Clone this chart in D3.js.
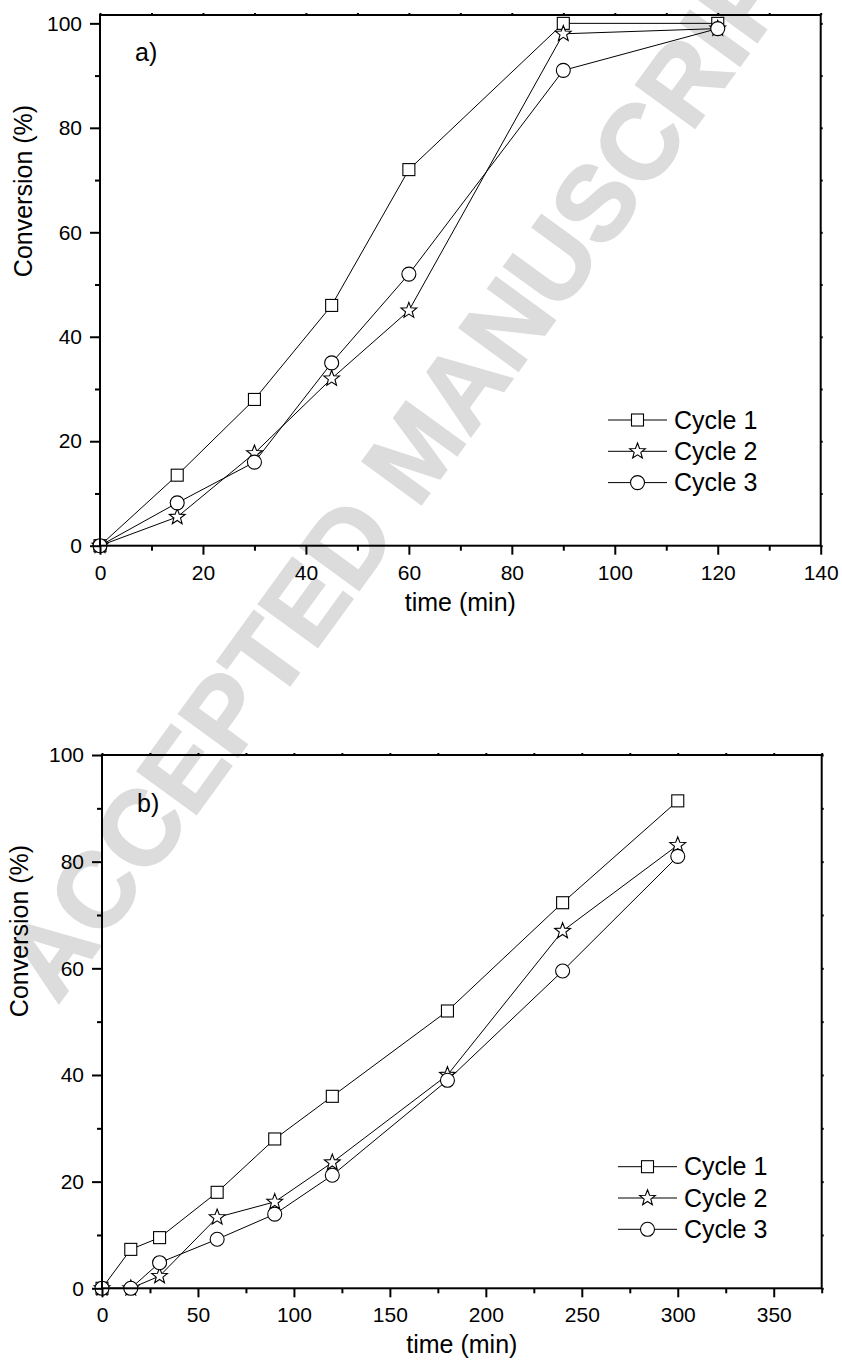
<!DOCTYPE html>
<html>
<head>
<meta charset="utf-8">
<script src="https://d3js.org/d3.v7.min.js"></script>
<style>
  body { margin: 0; background: #fff; }
  svg { display: block; font-family: Arial, "Liberation Sans", sans-serif; }
</style>
</head>
<body>
<svg id="chart" width="842" height="1370"></svg>
<script>
// panel a) conversion vs time, 0-120 min
var timeA = [0, 15, 30, 45, 60, 90, 120],
    cycle1A = [0, 13.5, 28, 46, 72, 100, 100],
    cycle2A = [0, 5.5, 17.7, 32, 45, 98, 99],
    cycle3A = [0, 8.2, 16, 35, 52, 91, 99];

// panel b) conversion vs time, 0-300 min
var timeB = [0, 15, 30, 60, 90, 120, 180, 240, 300],
    cycle1B = [0, 7.3, 9.5, 18, 28, 36, 52, 72.3, 91.4],
    cycle2B = [0, 0, 2.3, 13.3, 16.2, 23.6, 40, 67, 83.1],
    cycle3B = [0, 0, 4.8, 9.2, 13.9, 21.2, 39, 59.5, 81];

var seriesNames = ["Cycle 1", "Cycle 2", "Cycle 3"],
    seriesSymbols = ["square", "star", "circle"];

var xMajorA = [0, 20, 40, 60, 80, 100, 120, 140],
    xMinorA = [10, 30, 50, 70, 90, 110, 130],
    xMajorB = [0, 50, 100, 150, 200, 250, 300, 350],
    xMinorB = [25, 75, 125, 175, 225, 275, 325, 375],
    yMajor = [0, 20, 40, 60, 80, 100],
    yMinor = [10, 30, 50, 70, 90];

var svg = d3.select("#chart");

// watermark behind everything
svg.append("text")
  .attr("transform", "translate(415,450) rotate(-54)")
  .attr("text-anchor", "middle")
  .attr("dy", "0.35em")
  .style("font-size", "106px")
  .style("font-weight", "bold")
  .style("fill", "#dcdcdc")
  .style("stroke", "#dcdcdc")
  .style("stroke-width", 2)
  .text("ACCEPTED MANUSCRIPT");

function starPath(R) {
  var r = R * 0.42, pts = [], i, a;
  for (i = 0; i < 10; i++) {
    a = -Math.PI / 2 + i * Math.PI / 5;
    pts.push([(i % 2 ? r : R) * Math.cos(a), (i % 2 ? r : R) * Math.sin(a)]);
  }
  return "M" + pts.map(function(p) { return p[0].toFixed(2) + "," + p[1].toFixed(2); }).join("L") + "Z";
}

function drawSymbol(g, kind, x, y) {
  if (kind === "square") {
    g.append("rect").attr("x", x - 6).attr("y", y - 6).attr("width", 12).attr("height", 12);
  } else if (kind === "circle") {
    g.append("circle").attr("cx", x).attr("cy", y).attr("r", 7);
  } else {
    g.append("path").attr("d", starPath(8.3)).attr("transform", "translate(" + x + "," + y + ")");
  }
}

function drawPanel(p) {
  var x = d3.scaleLinear().domain(p.xDomain).range([p.left, p.right]),
      y = d3.scaleLinear().domain(p.yDomain).range([p.bottom, p.top]),
      g = svg.append("g"),
      line = d3.line().x(function(d) { return x(d[0]); }).y(function(d) { return y(d[1]); });

  p.series.forEach(function(vals, k) {
    var pts = p.time.map(function(t, i) { return [t, vals[i]]; });
    g.append("path").attr("d", line(pts))
      .attr("fill", "none").attr("stroke", "#000").attr("stroke-width", 1);
  });
  p.series.forEach(function(vals, k) {
    var mg = g.append("g").attr("fill", "#fff").attr("stroke", "#000").attr("stroke-width", 1.1);
    p.time.forEach(function(t, i) { drawSymbol(mg, seriesSymbols[k], x(t), y(vals[i])); });
  });

  // bottom axis: majors with labels, minors without
  g.append("g").attr("transform", "translate(0," + p.bottom + ")")
    .call(d3.axisBottom(x).tickValues(p.xMajor).tickSize(9).tickPadding(10).tickFormat(d3.format("d")))
    .call(styleAxis);
  g.append("g").attr("transform", "translate(0," + p.bottom + ")")
    .call(d3.axisBottom(x).tickValues(p.xMinor).tickSize(5).tickFormat(""))
    .call(styleAxis);
  g.append("g").attr("transform", "translate(" + p.left + ",0)")
    .call(d3.axisLeft(y).tickValues(yMajor).tickSize(10).tickPadding(8).tickFormat(d3.format("d")))
    .call(styleAxis);
  g.append("g").attr("transform", "translate(" + p.left + ",0)")
    .call(d3.axisLeft(y).tickValues(yMinor).tickSize(5).tickFormat(""))
    .call(styleAxis);
  // small ticks on top and right frame
  g.append("g").attr("transform", "translate(0," + p.top + ")")
    .call(d3.axisTop(x).tickValues(p.xMajor.concat(p.xMinor)).tickSize(2).tickFormat(""))
    .call(styleAxis);
  g.append("g").attr("transform", "translate(" + p.right + ",0)")
    .call(d3.axisRight(y).tickValues(yMajor.concat(yMinor)).tickSize(2).tickFormat(""))
    .call(styleAxis);

  g.append("rect")
    .attr("x", p.left).attr("y", p.top)
    .attr("width", p.right - p.left).attr("height", p.bottom - p.top)
    .attr("fill", "none").attr("stroke", "#000").attr("stroke-width", 2);

  g.append("text").attr("x", p.left + 35).attr("y", p.top + p.labelDy)
    .style("font-size", "25px").text(p.label);

  g.append("text").attr("x", (p.left + p.right) / 2).attr("y", p.bottom + 65)
    .attr("text-anchor", "middle").style("font-size", "25px").text("time (min)");

  g.append("text")
    .attr("transform", "translate(" + p.yTitleX + "," + (p.top + 176) + ") rotate(-90)")
    .attr("text-anchor", "middle").style("font-size", "25px").text("Conversion (%)");

  // legend
  var lg = g.append("g");
  seriesNames.forEach(function(name, k) {
    var ly = p.legendY + k * 31.3;
    lg.append("line").attr("x1", p.legendX).attr("x2", p.legendX + 59)
      .attr("y1", ly).attr("y2", ly).attr("stroke", "#000").attr("stroke-width", 1);
    var mg = lg.append("g").attr("fill", "#fff").attr("stroke", "#000").attr("stroke-width", 1.1);
    drawSymbol(mg, seriesSymbols[k], p.legendX + 29.5, ly);
    lg.append("text").attr("x", p.legendX + 66).attr("y", ly).attr("dy", "0.35em")
      .style("font-size", "25px").text(name);
  });
}

function styleAxis(sel) {
  sel.select(".domain").remove();
  sel.selectAll(".tick line").attr("stroke", "#000").attr("stroke-width", 2);
  sel.selectAll(".tick text").attr("fill", "#000")
    .style("font-size", "21px").style("font-family", "Arial, 'Liberation Sans', sans-serif");
}

drawPanel({
  left: 100, right: 820.7, top: 15, bottom: 545.7,
  xDomain: [0, 140], yDomain: [0, 101.6],
  xMajor: xMajorA, xMinor: xMinorA,
  time: timeA, series: [cycle1A, cycle2A, cycle3A],
  label: "a)", labelDy: 46, yTitleX: 32,
  legendX: 608, legendY: 420
});

drawPanel({
  left: 102, right: 821.7, top: 755, bottom: 1288.3,
  xDomain: [0, 375], yDomain: [0, 100],
  xMajor: xMajorB, xMinor: xMinorB,
  time: timeB, series: [cycle1B, cycle2B, cycle3B],
  label: "b)", labelDy: 57, yTitleX: 28,
  legendX: 618, legendY: 1166.7
});
</script>
</body>
</html>
